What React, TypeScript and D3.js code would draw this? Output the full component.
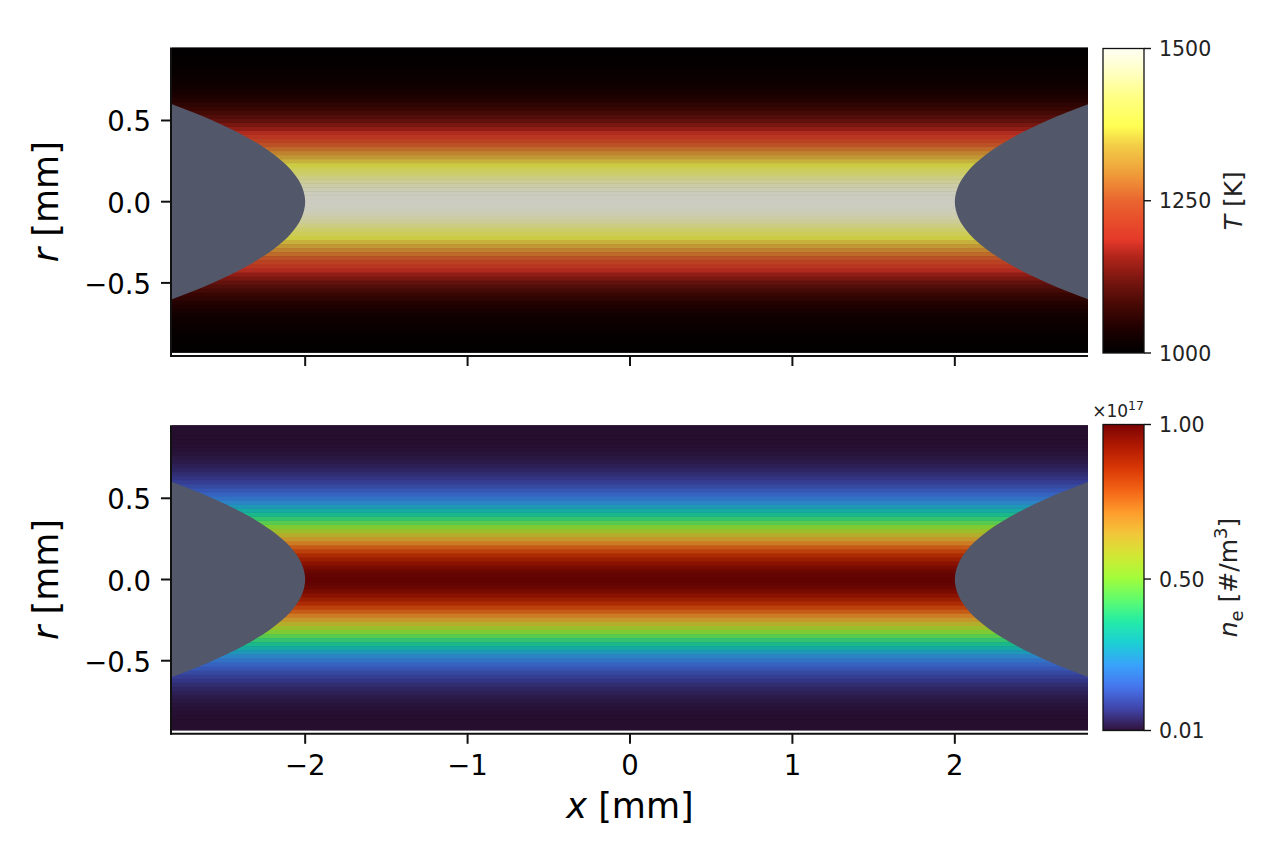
import React from "react";
import * as d3 from "d3";

// ---------------- data ----------------
// radial sample positions r [mm] (profile is symmetric in r, uniform along x)
const rSamples = [
  0, 0.025, 0.05, 0.075, 0.1, 0.125, 0.15, 0.175, 0.2, 0.225, 0.25, 0.275, 0.3,
  0.325, 0.35, 0.375, 0.4, 0.425, 0.45, 0.475, 0.5, 0.525, 0.55, 0.575, 0.6,
  0.625, 0.65, 0.675, 0.7, 0.725, 0.75, 0.775, 0.8, 0.825, 0.85, 0.875, 0.9,
  0.925, 0.95,
];
// temperature T [K]
const temperatureK = [
  1500, 1498, 1493, 1484, 1472, 1458, 1440, 1420, 1399, 1375, 1351, 1326, 1300,
  1275, 1250, 1225, 1202, 1180, 1159, 1139, 1121, 1105, 1090, 1077, 1065, 1055,
  1046, 1038, 1031, 1025, 1021, 1017, 1013, 1011, 1008, 1006, 1005, 1004, 1003,
];
// electron density n_e [×1e17 #/m^3]
const electronDensity = [
  1.0, 0.996, 0.984, 0.964, 0.936, 0.902, 0.862, 0.818, 0.769, 0.717, 0.663,
  0.608, 0.553, 0.499, 0.447, 0.397, 0.349, 0.305, 0.264, 0.227, 0.193, 0.163,
  0.137, 0.114, 0.094, 0.077, 0.062, 0.05, 0.04, 0.032, 0.025, 0.019, 0.015,
  0.012, 0.01, 0.01, 0.01, 0.01, 0.01,
];

// electrode outline (right electrode; left is mirrored)
const electrodeR = [0, 0.1, 0.2, 0.3, 0.4, 0.5, 0.6, 0.7];
const electrodeX = [2.0, 2.023, 2.091, 2.205, 2.365, 2.57, 2.82, 3.12];

const xTicks = [-2, -1, 0, 1, 2];
const rTicks = [-0.5, 0, 0.5];
const tempTicks = [1000, 1250, 1500];
const densTicks = [0.01, 0.5, 1.0];

const tempDomain = [1000, 1500];
const densDomain = [0.01, 1.0];

// colormap key colours
const heatStopPos = [0, 0.08, 0.16, 0.24, 0.32, 0.37, 0.44, 0.5, 0.56, 0.62, 0.68, 0.745, 0.84, 0.93, 1];
const heatStopCol = [
  "#000000", "#1e0000", "#480904", "#7a1610", "#b5261b", "#e4392a", "#e84f2b",
  "#ea6530", "#ee8b36", "#f0ae3e", "#f2cb47", "#ffff52", "#ffff84", "#ffffc8", "#fffff4",
];
const turboCol = [
  "#30123b", "#4145ab", "#4675ed", "#39a2fc", "#1bcfd4", "#24eca6", "#61fc6c",
  "#a4fc3b", "#d1e834", "#f3c63a", "#fe9b2d", "#f36315", "#d93806", "#b11901", "#7a0403",
];

// ---------------- layout ----------------
const W = 1276;
const H = 846;
const plotLeft = 172;
const plotRight = 1088;
const xDomain = [-2.82, 2.82];
const rDomain = [-0.95, 0.95];
const imgRMin = -0.93;
const imgRMax = 0.95;
const cbLeft = 1103;
const cbRight = 1144;
const FONT = "DejaVu Sans, Liberation Sans, sans-serif";
const HEAT_ALPHA = 0.8;
const ELECTRODE = "#525769";

const heatCmap = d3
  .scaleLinear<string>()
  .domain(heatStopPos)
  .range(heatStopCol)
  .interpolate(d3.interpolateRgb)
  .clamp(true);
const turboCmap = d3
  .scaleLinear<string>()
  .domain(turboCol.map((_, i) => i / (turboCol.length - 1)))
  .range(turboCol)
  .interpolate(d3.interpolateRgb)
  .clamp(true);

function overBlack(c: string, a: number) {
  const k = d3.rgb(c);
  return d3.rgb(k.r * a, k.g * a, k.b * a).formatHex();
}

const xScale = d3.scaleLinear().domain(xDomain).range([plotLeft, plotRight]);

type PanelProps = {
  id: string;
  top: number;
  bottom: number;
  values: number[];
  domain: number[];
  cmap: (t: number) => string;
  showXLabels: boolean;
  cbTop: number;
  cbBottom: number;
  cbTicks: number[];
  cbFormat: (v: number) => string;
  cbLabel: React.ReactNode;
  cbLabelX: number;
  offsetText?: boolean;
};

function Panel(p: PanelProps) {
  const yScale = d3.scaleLinear().domain(rDomain).range([p.bottom, p.top]);
  const norm = d3.scaleLinear().domain(p.domain).range([0, 1]).clamp(true);
  const half = 0.0125;

  const bands: { lo: number; hi: number; v: number; key: string }[] = [];
  rSamples.forEach((r, i) => {
    const v = p.values[i];
    const signs = r === 0 ? [1] : [1, -1];
    signs.forEach((s) => {
      const c = s * r;
      const lo = Math.max(imgRMin, c - half);
      const hi = Math.min(imgRMax, c + half);
      if (hi > lo) bands.push({ lo, hi, v, key: `${i}_${s}` });
    });
  });

  const elLine = d3
    .line<[number, number]>()
    .x((d) => xScale(d[0]))
    .y((d) => yScale(d[1]))
    .curve(d3.curveCatmullRom);

  const rightPts: [number, number][] = [];
  for (let i = electrodeR.length - 1; i >= 0; i--) rightPts.push([electrodeX[i], -electrodeR[i]]);
  for (let i = 1; i < electrodeR.length; i++) rightPts.push([electrodeX[i], electrodeR[i]]);
  const leftPts: [number, number][] = rightPts.map((d) => [-d[0], d[1]]);
  const closeR = (pts: [number, number][], xo: number) =>
    elLine(pts) +
    `L${xScale(xo)},${yScale(pts[pts.length - 1][1])}L${xScale(xo)},${yScale(pts[0][1])}Z`;

  const clipId = `clip-${p.id}`;
  const gradId = `grad-${p.id}`;
  const cbScale = d3.scaleLinear().domain(p.domain).range([p.cbBottom, p.cbTop]);
  const nStops = 60;

  return (
    <g>
      <defs>
        <clipPath id={clipId}>
          <rect
            x={plotLeft}
            y={yScale(imgRMax)}
            width={plotRight - plotLeft}
            height={yScale(imgRMin) - yScale(imgRMax)}
          />
        </clipPath>
        <linearGradient id={gradId} x1="0" y1="1" x2="0" y2="0">
          {d3.range(nStops + 1).map((k) => (
            <stop key={k} offset={k / nStops} stopColor={p.cmap(k / nStops)} />
          ))}
        </linearGradient>
      </defs>

      {/* heat map */}
      <g clipPath={`url(#${clipId})`}>
        <rect
          x={plotLeft}
          y={yScale(imgRMax)}
          width={plotRight - plotLeft}
          height={yScale(imgRMin) - yScale(imgRMax)}
          fill="#000"
        />
        {bands.map((b) => (
          <rect
            key={b.key}
            x={plotLeft}
            y={yScale(b.hi) - 0.3}
            width={plotRight - plotLeft}
            height={yScale(b.lo) - yScale(b.hi) + 0.6}
            fill={overBlack(p.cmap(norm(b.v)), HEAT_ALPHA)}
          />
        ))}
        <path d={closeR(rightPts, 3.3)} fill={ELECTRODE} />
        <path d={closeR(leftPts, -3.3)} fill={ELECTRODE} />
      </g>

      {/* spines */}
      <line x1={plotLeft - 1} x2={plotLeft - 1} y1={p.top} y2={p.bottom + 1} stroke="#111" strokeWidth={2} />
      <line x1={plotLeft - 2} x2={plotRight} y1={p.bottom} y2={p.bottom} stroke="#111" strokeWidth={2} />

      {/* y ticks */}
      {rTicks.map((t) => (
        <g key={t}>
          <line x1={plotLeft - 11} x2={plotLeft - 1} y1={yScale(t)} y2={yScale(t)} stroke="#111" strokeWidth={2} />
          <text
            x={151}
            y={yScale(t) + 11}
            textAnchor="end"
            fontFamily={FONT}
            fontSize={27.5}
            fill="#000"
          >
            {d3.format(".1f")(t)}
          </text>
        </g>
      ))}

      {/* x ticks */}
      {xTicks.map((t) => (
        <g key={t}>
          <line x1={xScale(t)} x2={xScale(t)} y1={p.bottom} y2={p.bottom + 10} stroke="#111" strokeWidth={2} />
          {p.showXLabels && (
            <text
              x={xScale(t)}
              y={p.bottom + 41}
              textAnchor="middle"
              fontFamily={FONT}
              fontSize={27.5}
              fill="#000"
            >
              {d3.format("d")(t)}
            </text>
          )}
        </g>
      ))}

      {/* y label */}
      <text
        transform={`translate(58,${yScale(0)}) rotate(-90)`}
        textAnchor="middle"
        fontFamily={FONT}
        fontSize={35}
        fill="#000"
      >
        <tspan fontStyle="italic">r</tspan>
        <tspan> [mm]</tspan>
      </text>

      {/* colorbar */}
      <rect
        x={cbLeft}
        y={p.cbTop}
        width={cbRight - cbLeft}
        height={p.cbBottom - p.cbTop}
        fill={`url(#${gradId})`}
        stroke="#111"
        strokeWidth={1.3}
      />
      {p.cbTicks.map((t) => (
        <g key={t}>
          <line x1={cbRight} x2={cbRight + 7} y1={cbScale(t)} y2={cbScale(t)} stroke="#111" strokeWidth={1.4} />
          <text
            x={cbRight + 15}
            y={cbScale(t) + 7.5}
            textAnchor="start"
            fontFamily={FONT}
            fontSize={20.5}
            fill="#222"
          >
            {p.cbFormat(t)}
          </text>
        </g>
      ))}
      <text
        transform={`translate(${p.cbLabelX},${(p.cbTop + p.cbBottom) / 2}) rotate(-90)`}
        textAnchor="middle"
        fontFamily={FONT}
        fontSize={25}
        fill="#222"
      >
        {p.cbLabel}
      </text>
      {p.offsetText && (
        <text x={cbRight} y={p.cbTop - 8} textAnchor="end" fontFamily={FONT} fontSize={17} fill="#222">
          <tspan>×10</tspan>
          <tspan dy={-7} fontSize={12.5}>
            17
          </tspan>
        </text>
      )}
    </g>
  );
}

export default function App() {
  return (
    <svg
      width={W}
      height={H}
      viewBox={`0 0 ${W} ${H}`}
      style={{ position: "absolute", left: 0, top: 0, background: "#fff" }}
    >
      <rect x={0} y={0} width={W} height={H} fill="#fff" />
      <Panel
        id="temp"
        top={47.4}
        bottom={356}
        values={temperatureK}
        domain={tempDomain}
        cmap={heatCmap}
        showXLabels={false}
        cbTop={48.5}
        cbBottom={353}
        cbTicks={tempTicks}
        cbFormat={(v) => d3.format("d")(v)}
        cbLabelX={1242}
        cbLabel={
          <>
            <tspan fontStyle="italic">T</tspan>
            <tspan> [K]</tspan>
          </>
        }
      />
      <Panel
        id="dens"
        top={425.2}
        bottom={733.8}
        values={electronDensity}
        domain={densDomain}
        cmap={turboCmap}
        showXLabels={true}
        cbTop={424.5}
        cbBottom={730.5}
        cbTicks={densTicks}
        cbFormat={(v) => d3.format(".2f")(v)}
        cbLabelX={1237}
        offsetText={true}
        cbLabel={
          <>
            <tspan fontStyle="italic">n</tspan>
            <tspan dy={6} fontSize={18}>
              e
            </tspan>
            <tspan dy={-6}> [#/m</tspan>
            <tspan dy={-10} fontSize={18}>
              3
            </tspan>
            <tspan dy={10}>]</tspan>
          </>
        }
      />
      {/* x label */}
      <text x={630} y={818} textAnchor="middle" fontFamily={FONT} fontSize={35} fill="#000">
        <tspan fontStyle="italic">x</tspan>
        <tspan> [mm]</tspan>
      </text>
    </svg>
  );
}
